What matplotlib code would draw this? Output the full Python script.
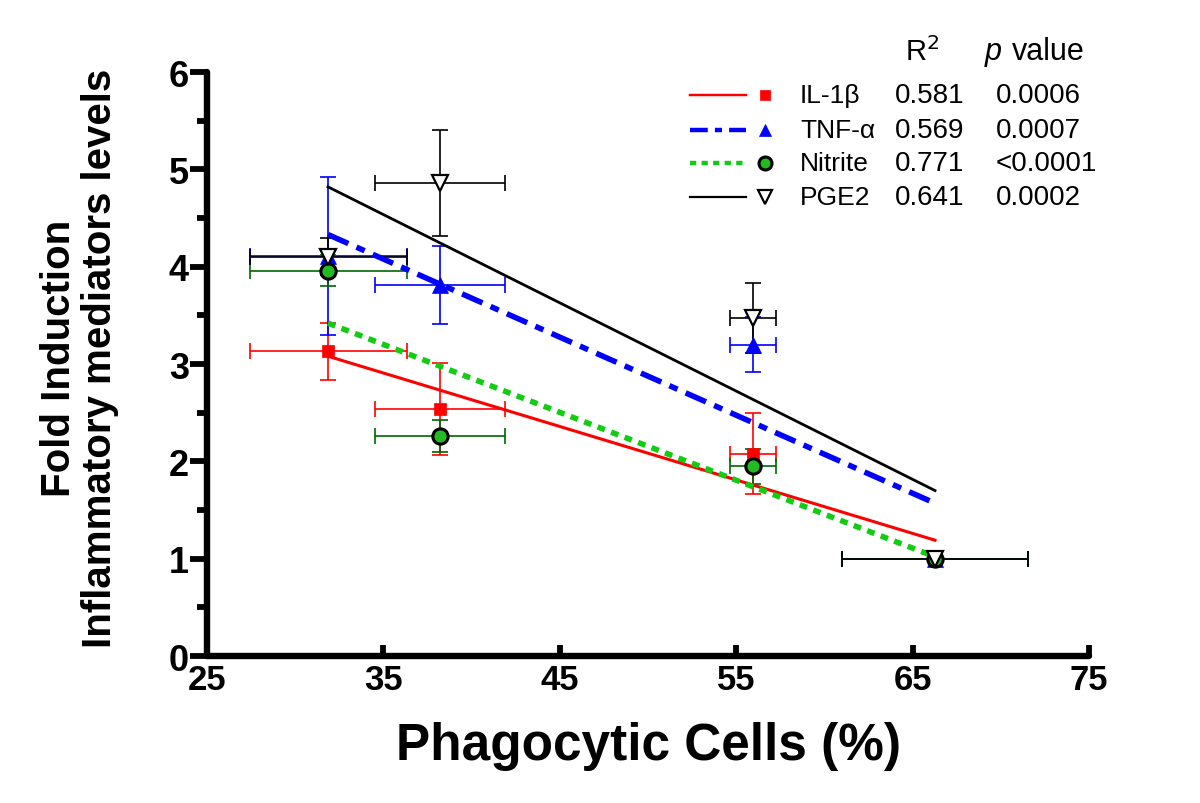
import matplotlib
matplotlib.use('Agg')
import matplotlib.pyplot as plt
from matplotlib.lines import Line2D
import numpy as np

plt.rcParams['font.family'] = ['Liberation Sans', 'DejaVu Sans']

# phagocytic cells (%) mean +/- sd, shared by all mediators
phago = [31.86, 38.2, 55.95, 66.27]
phago_err = [4.45, 3.7, 1.3, 5.25]

il1b = [3.13, 2.54, 2.08, 1.0]
il1b_err = [0.29, 0.47, 0.42, 0.0]
tnf = [4.11, 3.81, 3.20, 1.0]
tnf_err = [0.81, 0.40, 0.28, 0.0]
nitrite = [3.96, 2.26, 1.95, 1.0]
nitrite_err = [0.16, 0.16, 0.18, 0.0]
pge2 = [4.10, 4.86, 3.47, 1.0]
pge2_err = [0.19, 0.54, 0.36, 0.0]

# linear regression lines (value at first and last x)
fit_x = [31.86, 66.27]
il1b_fit = [3.08, 1.19]
tnf_fit = [4.33, 1.57]
nitrite_fit = [3.42, 1.02]
pge2_fit = [4.82, 1.70]

names = ['IL-1β', 'TNF-α', 'Nitrite', 'PGE2']
r2 = ['0.581', '0.569', '0.771', '0.641']
pvals = ['0.0006', '0.0007', '<0.0001', '0.0002']

fig = plt.figure(figsize=(12, 8.04), dpi=100)
ax = fig.add_axes([0.1725, 0.1828, 0.735, 0.7264])

styles = [
    dict(y=il1b, e=il1b_err, fit=il1b_fit, lc='#ff0000', ls='-', lw=2.2, dashes=None,
         m='s', ms=9, mfc='#ff0000', mec='#ff0000', mew=0.5, ec='#ff0000'),
    dict(y=tnf, e=tnf_err, fit=tnf_fit, lc='#0000ff', ls='--', lw=4, dashes=(4, 1.6, 1.6, 1.6),
         m='^', ms=11, mfc='#0000ff', mec='#0000ff', mew=0.5, ec='#0000ff'),
    dict(y=nitrite, e=nitrite_err, fit=nitrite_fit, lc='#11cc11', ls='--', lw=4, dashes=(1.4, 1.2),
         m='o', ms=11, mfc='#22bb22', mec='black', mew=2.2, ec='#006600'),
    dict(y=pge2, e=pge2_err, fit=pge2_fit, lc='black', ls='-', lw=2.0, dashes=None,
         m='v', ms=12, mfc='white', mec='black', mew=1.6, ec='black'),
]

for s in styles:
    ax.errorbar(phago, s['y'], xerr=phago_err, yerr=s['e'], fmt='none',
                ecolor=s['ec'], elinewidth=1.2, capsize=6, capthick=1.2, zorder=2)
for s in styles:
    ln, = ax.plot(fit_x, s['fit'], color=s['lc'], lw=s['lw'], ls=s['ls'], zorder=3)
    if s['dashes']:
        ln.set_dashes(s['dashes'])
for s in styles:
    ax.plot(phago, s['y'], ls='none', marker=s['m'], ms=s['ms'], mfc=s['mfc'],
            mec=s['mec'], mew=s['mew'], zorder=4)

ax.set_xlim(25, 75)
ax.set_ylim(0, 6)
ax.set_xticks([25, 35, 45, 55, 65, 75])
ax.set_yticks(range(7))
ax.set_yticks(np.arange(0.5, 6, 1), minor=True)
for sp in ['top', 'right']:
    ax.spines[sp].set_visible(False)
for sp in ['left', 'bottom']:
    ax.spines[sp].set_linewidth(4.6)
    ax.spines[sp].set_capstyle('round')
ax.tick_params(axis='y', which='major', direction='out', length=12, width=4.2, pad=1,
               labelsize=26)
ax.tick_params(axis='y', which='minor', direction='out', length=7, width=4.2)
ax.tick_params(axis='x', which='major', direction='in', length=8, width=4.2, pad=5,
               labelsize=25)
for lab in ax.get_xticklabels() + ax.get_yticklabels():
    lab.set_fontweight('bold')
ax.patch.set_alpha(0)

def fx(px):
    return px / 1200

def fy(py):
    return 1 - py / 804

fig.text(fx(80), fy(358), 'Fold Induction\nInflammatory mediators levels', fontsize=29,
         fontweight='bold', rotation=90, ha='center', va='center',
         multialignment='center', linespacing=1.1)
fig.text(fx(648), fy(760), 'Phagocytic Cells (%)', fontsize=37,
         fontweight='bold', ha='center', va='baseline')

# legend table
fig.text(fx(905), fy(52), 'R$^2$', fontsize=21, ha='left', va='center')
fig.text(fx(985), fy(52), 'p', fontsize=22, style='italic', ha='left', va='center')
fig.text(fx(1012), fy(52), 'value', fontsize=22, ha='left', va='center')
rows = [96, 131, 164, 198]
for i, s in enumerate(styles):
    yy = fy(rows[i])
    ln = Line2D([fx(690), fx(746)], [yy, yy], color=s['lc'], lw=s['lw'] * 0.8,
                ls=s['ls'], transform=fig.transFigure)
    if s['dashes']:
        ln.set_dashes(s['dashes'])
    fig.add_artist(ln)
    fig.add_artist(Line2D([fx(765)], [yy], ls='none', marker=s['m'], ms=s['ms'] * 0.85,
                          mfc=s['mfc'], mec=s['mec'], mew=s['mew'],
                          transform=fig.transFigure))
    fig.text(fx(800), yy, names[i], fontsize=19, ha='left', va='center')
    fig.text(fx(895), yy, r2[i], fontsize=20, ha='left', va='center')
    fig.text(fx(996), yy, pvals[i], fontsize=20, ha='left', va='center')

fig.savefig('out.png', dpi=100)
